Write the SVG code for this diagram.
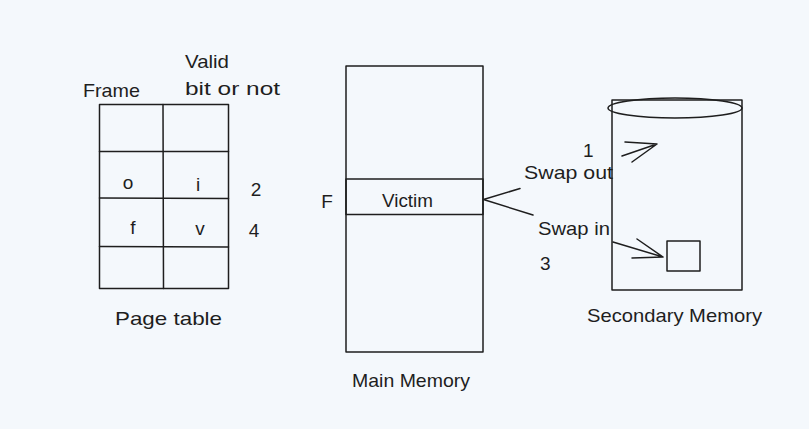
<svg xmlns="http://www.w3.org/2000/svg" width="809" height="429" viewBox="0 0 809 429">
  <style>
    .ln { fill: none; stroke: #1e1e1e; stroke-width: 1.5; stroke-linecap: round; stroke-linejoin: round; }
    .t { font-family: "Liberation Sans", "DejaVu Sans", sans-serif; font-size: 19px; fill: #1e1e1e; }
    .m { text-anchor: middle; }
  </style>
  <rect width="809" height="429" fill="#f4f8fc"/>

  <g id="page-table">
    <rect class="ln" x="99.5" y="104.5" width="129" height="184"/>
    <line class="ln" x1="163" y1="104.5" x2="163.5" y2="288.5"/>
    <line class="ln" x1="99.5" y1="151.5" x2="228.5" y2="151.5"/>
    <line class="ln" x1="99.5" y1="198" x2="228.5" y2="198.5"/>
    <line class="ln" x1="99.5" y1="246.5" x2="228.5" y2="247"/>
    <text class="t" x="83" y="97" textLength="57" lengthAdjust="spacingAndGlyphs">Frame</text>
    <text class="t" x="185" y="68" textLength="44" lengthAdjust="spacingAndGlyphs">Valid</text>
    <text class="t" x="185" y="95" textLength="95" lengthAdjust="spacingAndGlyphs">bit or not</text>
    <text class="t m" x="128" y="189">o</text>
    <text class="t m" x="198" y="191">i</text>
    <text class="t m" x="256" y="196">2</text>
    <text class="t m" x="133" y="234">f</text>
    <text class="t m" x="200" y="235">v</text>
    <text class="t m" x="254" y="237">4</text>
    <text class="t" x="115" y="325" textLength="107" lengthAdjust="spacingAndGlyphs">Page table</text>
  </g>

  <g id="main-memory">
    <rect class="ln" x="346" y="66" width="137" height="286"/>
    <rect class="ln" x="346" y="179" width="137" height="35.5"/>
    <text class="t" x="382" y="207" textLength="51" lengthAdjust="spacingAndGlyphs">Victim</text>
    <text class="t m" x="327" y="208">F</text>
    <text class="t" x="352" y="387" textLength="118" lengthAdjust="spacingAndGlyphs">Main Memory</text>
  </g>

  <g id="secondary-memory">
    <rect class="ln" x="612" y="100" width="130" height="190"/>
    <ellipse class="ln" cx="675" cy="108" rx="67" ry="10"/>
    <rect class="ln" x="667" y="241" width="33" height="30"/>
    <text class="t" x="587" y="322" textLength="175" lengthAdjust="spacingAndGlyphs">Secondary Memory</text>
  </g>

  <g id="connectors">
    <polyline class="ln" points="520,188.5 483.5,199.5 533,215"/>
    <path class="ln" d="M622,156 L657,144 M625,142 L657,144 L632,162"/>
    <path class="ln" d="M613,242 L663,257 M637,239 L663,257 L632,258"/>
  </g>

  <g id="labels">
    <text class="t" x="583" y="157">1</text>
    <text class="t" x="524" y="179" textLength="89" lengthAdjust="spacingAndGlyphs">Swap out</text>
    <text class="t" x="538" y="235" textLength="72" lengthAdjust="spacingAndGlyphs">Swap in</text>
    <text class="t" x="540" y="270">3</text>
  </g>
</svg>
